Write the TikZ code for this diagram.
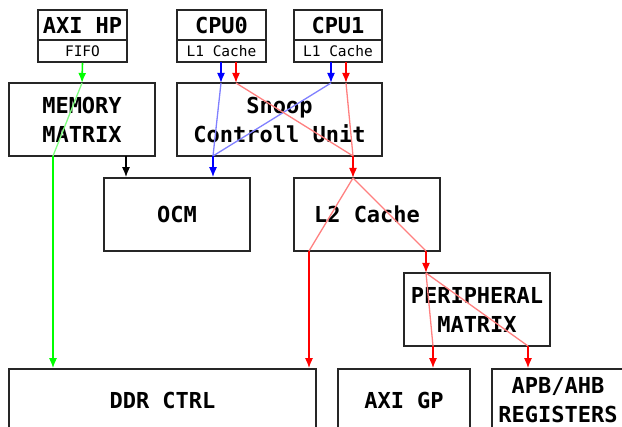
\documentclass[tikz,border=0pt]{standalone}
\usepackage{fontspec}
\newfontfamily\blockfont{DejaVu Sans Mono}
\usetikzlibrary{arrows.meta}

\begin{document}
\begin{tikzpicture}[x=1pt,y=-1pt,
  block/.style={draw=black!85,line width=1.5pt,inner sep=0pt,align=center,
    font=\blockfont\bfseries\fontsize{22}{29}\selectfont},
  cachebox/.style={draw=black!85,line width=1.5pt,inner sep=0pt,
    font=\blockfont\fontsize{14.5}{16}\selectfont},
  flow/.style={line width=1.6pt,-{Latex[length=10pt,width=8pt]}},
  pass/.style={line width=1.3pt}]
\useasboundingbox (0,0) rectangle (622,427);
\clip (0,0) rectangle (622,427);

% Masters
\node[block,minimum width=89,minimum height=30] (axihp) at (82.5,25) {AXI HP};
\node[cachebox,minimum width=89,minimum height=22] (axififo) at (82.5,51) {FIFO};
\node[block,minimum width=89,minimum height=30] (cpu0) at (221.5,25) {CPU0};
\node[cachebox,minimum width=89,minimum height=22] (cpu0cache) at (221.5,51) {L1 Cache};
\node[block,minimum width=88,minimum height=30] (cpu1) at (338,25) {CPU1};
\node[cachebox,minimum width=88,minimum height=22] (cpu1cache) at (338,51) {L1 Cache};

% Interconnect
\node[block,minimum width=146,minimum height=73] (memmatrix) at (82,119.5) {MEMORY\\MATRIX};
\node[block,minimum width=205,minimum height=73] (scu) at (279.5,119.5) {Snoop\\Controll Unit};
\node[block,minimum width=146,minimum height=73] (ocm) at (177,214.5) {OCM};
\node[block,minimum width=146,minimum height=73] (ltwo) at (367,214.5) {L2 Cache};
\node[block,minimum width=146,minimum height=73] (periph) at (477,309.5) {PERIPHERAL\\MATRIX};

% Slaves
\node[block,minimum width=307,minimum height=62] (ddr) at (162.5,400) {DDR CTRL};
\node[block,minimum width=132,minimum height=62] (axigp) at (404,400) {AXI GP};
\node[block,minimum width=132,minimum height=62] (apb) at (558,400) {APB/AHB\\REGISTERS};

% Junction points
\coordinate (g1) at (82,83);
\coordinate (g2) at (53,156);
\coordinate (k1) at (126,156);
\coordinate (b0) at (221,62);
\coordinate (b1) at (221,83);
\coordinate (b2) at (213,156);
\coordinate (b4) at (331,62);
\coordinate (b5) at (331,83);
\coordinate (r0) at (236,62);
\coordinate (r1) at (236,83);
\coordinate (r4) at (346,62);
\coordinate (r5) at (346,83);
\coordinate (r2) at (353,156);
\coordinate (r3) at (353,178);
\coordinate (r6) at (309,251);
\coordinate (r8) at (426,251);
\coordinate (r9) at (426,273);
\coordinate (r10) at (433,346);
\coordinate (r12) at (528,346);

% AXI HP path (green)
\draw[flow,green] (axififo.south) -- (g1);
\draw[pass,green!50] (g1) -- (g2);
\draw[flow,green] (g2) -- (g2 |- ddr.north);

% Memory matrix to OCM
\draw[flow,black] (k1) -- (k1 |- ocm.north);

% CPU to OCM (blue)
\draw[flow,blue] (b0) -- (b1);
\draw[flow,blue] (b4) -- (b5);
\draw[pass,blue!50] (b1) -- (b2);
\draw[pass,blue!50] (b5) -- (b2);
\draw[flow,blue] (b2) -- (b2 |- ocm.north);

% CPU to L2 and beyond (red)
\draw[flow,red] (r0) -- (r1);
\draw[flow,red] (r4) -- (r5);
\draw[pass,red!50] (r1) -- (r2);
\draw[pass,red!50] (r5) -- (r2);
\draw[flow,red] (r2) -- (r3);
\draw[pass,red!50] (r3) -- (r6);
\draw[pass,red!50] (r3) -- (r8);
\draw[flow,red] (r6) -- (r6 |- ddr.north);
\draw[flow,red] (r8) -- (r9);
\draw[pass,red!50] (r9) -- (r10);
\draw[pass,red!50] (r9) -- (r12);
\draw[flow,red] (r10) -- (r10 |- axigp.north);
\draw[flow,red] (r12) -- (r12 |- apb.north);

\end{tikzpicture}
\end{document}
